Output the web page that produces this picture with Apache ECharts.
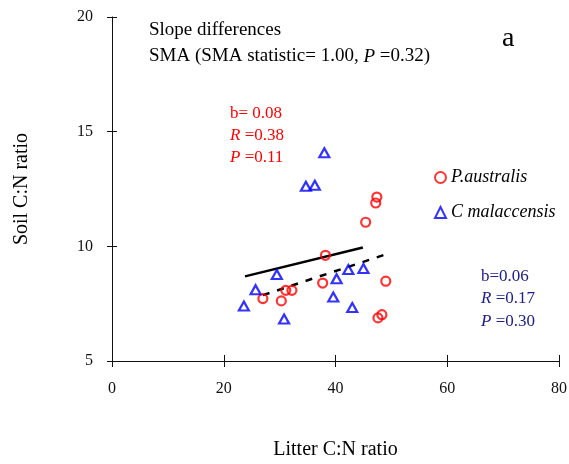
<!DOCTYPE html>
<html>
<head>
<meta charset="utf-8">
<script src="https://cdn.jsdelivr.net/npm/echarts@6/dist/echarts.min.js"></script>
<style>
  html, body { margin: 0; padding: 0; background: #fff; }
  #chart { width: 569px; height: 464px; }
</style>
</head>
<body>
<div id="chart"></div>
<script>
// P. australis (red circles): [litter C:N, soil C:N]
var australisPoints = [
  [47.4, 12.15], [47.2, 11.89], [45.4, 11.05], [38.2, 9.61],
  [27.0, 7.72], [30.3, 7.62], [31.1, 8.08], [32.2, 8.08],
  [37.7, 8.40], [49.0, 8.48], [47.6, 6.88], [48.3, 7.02]
];
// C. malaccensis (blue triangles)
var malaccensisPoints = [
  [38.0, 14.08], [34.7, 12.62], [36.3, 12.66], [29.5, 8.77],
  [25.7, 8.11], [23.6, 7.40], [30.8, 6.83], [40.2, 8.59],
  [42.3, 8.99], [45.0, 9.03], [39.6, 7.79], [43.0, 7.33]
];
// SMA fit lines (end points)
var australisFit = [[23.8, 8.69], [44.9, 9.95]];
var malaccensisFit = [[27.0, 7.87], [49.0, 9.65]];

var seriesNames = ["P.australis", "C malaccensis"];
var xTicks = { min: 0, max: 80, interval: 20 };
var yTicks = { min: 5, max: 20, interval: 5 };

var font = "Liberation Serif";
var red = "#ff0000";
var navy = "#20208a";

var myChart = echarts.init(document.getElementById("chart"));

function textLines(left, top, lines, color, size, gap) {
  var out = [];
  for (var i = 0; i < lines.length; i++) {
    out.push({
      type: "text",
      left: left,
      top: top + i * gap,
      style: {
        text: lines[i],
        fill: color,
        font: size + "px " + font,
        rich: {
          i: { fontStyle: "italic", fontSize: size, fontFamily: font, fill: color }
        }
      }
    });
  }
  return out;
}

var graphics = []
  .concat(textLines(149, 21, ["Slope differences", "SMA (SMA statistic= 1.00, {i|P} =0.32)"], "#000", 19, 26))
  .concat(textLines(230, 105, ["b= 0.08", "{i|R} =0.38", "{i|P} =0.11"], red, 17, 22))
  .concat(textLines(481, 268, ["b=0.06", "{i|R} =0.17", "{i|P} =0.30"], navy, 17, 22.5))
  .concat(textLines(502, 25, ["a"], "#000", 28, 0));

var baseAxis = function (t) {
  return {
    type: "value",
    min: t.min,
    max: t.max,
    interval: t.interval,
    splitLine: { show: false }
  };
};

var xMain = Object.assign(baseAxis(xTicks), {
  position: "bottom",
  name: "Litter C:N ratio",
  nameLocation: "middle",
  nameGap: 79,
  nameTextStyle: { fontFamily: font, fontSize: 20, color: "#000" },
  axisLine: { lineStyle: { color: "#111", width: 1 } },
  axisTick: { length: 6, lineStyle: { color: "#111" } },
  axisLabel: { margin: 20, fontFamily: font, fontSize: 16, color: "#111" }
});
var xInner = Object.assign(baseAxis(xTicks), {
  position: "bottom",
  axisLine: { show: false },
  axisTick: { show: true, inside: true, length: 6, lineStyle: { color: "#111" } },
  axisLabel: { show: false }
});
var yMain = Object.assign(baseAxis(yTicks), {
  position: "left",
  name: "Soil C:N ratio",
  nameLocation: "middle",
  nameGap: 80,
  nameTextStyle: { fontFamily: font, fontSize: 20, color: "#000" },
  axisLine: { lineStyle: { color: "#111", width: 1 } },
  axisTick: { length: 5, lineStyle: { color: "#111" } },
  axisLabel: { margin: 19, fontFamily: font, fontSize: 16, color: "#111" }
});
var yInner = Object.assign(baseAxis(yTicks), {
  position: "left",
  axisLine: { show: false },
  axisTick: { show: true, inside: true, length: 5, lineStyle: { color: "#111" } },
  axisLabel: { show: false }
});

var option = {
  animation: false,
  backgroundColor: "#fff",
  grid: { left: 112, right: 10, top: 17, bottom: 103, outerBoundsMode: "none", containLabel: false },
  legend: {
    data: seriesNames,
    orient: "vertical",
    left: 429,
    top: 162,
    itemWidth: 11,
    itemHeight: 11,
    itemGap: 14,
    textStyle: { fontFamily: font, fontSize: 18, fontStyle: "italic", color: "#000", lineHeight: 21 }
  },
  xAxis: [xMain, xInner],
  yAxis: [yMain, yInner],
  graphic: graphics,
  series: [
    {
      name: seriesNames[0],
      type: "scatter",
      symbol: "circle",
      symbolSize: 9,
      itemStyle: { color: "rgba(0,0,0,0)", borderColor: red, borderWidth: 2.2 },
      data: australisPoints,
      z: 3
    },
    {
      name: seriesNames[1],
      type: "scatter",
      symbol: "triangle",
      symbolSize: [10, 9],
      itemStyle: { color: "rgba(0,0,0,0)", borderColor: "#0000ff", borderWidth: 2.2 },
      data: malaccensisPoints,
      z: 3
    },
    {
      type: "line",
      symbol: "none",
      data: australisFit,
      lineStyle: { color: "#000", width: 2.5 },
      z: 2
    },
    {
      type: "line",
      symbol: "none",
      data: malaccensisFit,
      lineStyle: { color: "#000", width: 2.5, type: [7, 8] },
      z: 2
    }
  ]
};
myChart.setOption(option, true);
</script>
</body>
</html>
